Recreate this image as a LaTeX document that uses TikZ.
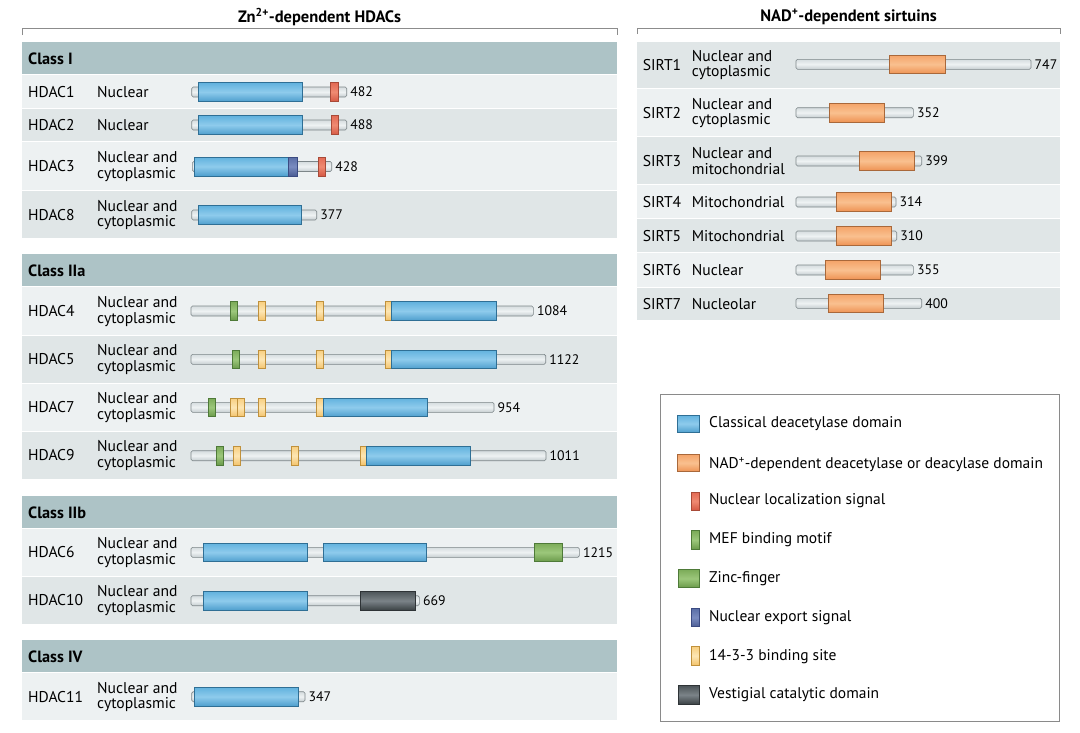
\documentclass[tikz,border=0pt]{standalone}
\usepackage{fontspec}
\setmainfont{PT Sans}
\definecolor{bandcol}{HTML}{ADC3C6}
\definecolor{rowlight}{HTML}{EDF1F2}
\definecolor{rowdark}{HTML}{E0E6E7}
\definecolor{bracketcol}{HTML}{8C8C8C}
\definecolor{bbdraw}{HTML}{7D8689}
\definecolor{bbtop}{HTML}{D6DDDF}
\definecolor{bbmid}{HTML}{EEF2F3}
\definecolor{bbbot}{HTML}{C5CDD0}
\definecolor{bldraw}{HTML}{2F6F95}
\definecolor{bltop}{HTML}{62B2DE}
\definecolor{blmid}{HTML}{8ECBEC}
\definecolor{blbot}{HTML}{4F9FCE}
\definecolor{ordraw}{HTML}{A9683A}
\definecolor{ortop}{HTML}{F4A46A}
\definecolor{ormid}{HTML}{F9C08F}
\definecolor{orbot}{HTML}{EE9354}
\definecolor{rddraw}{HTML}{A84A38}
\definecolor{rdtop}{HTML}{E36B55}
\definecolor{rdmid}{HTML}{EF8A72}
\definecolor{rdbot}{HTML}{D65A45}
\definecolor{grdraw}{HTML}{4E7A38}
\definecolor{grtop}{HTML}{7BAB58}
\definecolor{grmid}{HTML}{9CC77B}
\definecolor{grbot}{HTML}{6A9A4A}
\definecolor{yedraw}{HTML}{C0913C}
\definecolor{yetop}{HTML}{F8CF80}
\definecolor{yemid}{HTML}{FDE6B3}
\definecolor{yebot}{HTML}{F3C36C}
\definecolor{nedraw}{HTML}{3B4B82}
\definecolor{netop}{HTML}{5A6EA6}
\definecolor{nemid}{HTML}{7A8CC0}
\definecolor{nebot}{HTML}{4B5D94}
\definecolor{vedraw}{HTML}{2E3336}
\definecolor{vetop}{HTML}{4D5559}
\definecolor{vemid}{HTML}{7B8388}
\definecolor{vebot}{HTML}{3C4346}
\definecolor{legdraw}{HTML}{8A8A8A}
\newcommand\protbar[5]{% name, y, x1, x2, length
  \draw[backbone] (#3,#2-5) rectangle (#4,#2+5);
  \node[num] (#1) at (#4+3.5,#2) {#5};
}
\newcommand\dombox[4]{% style, y, x1, x2
  \draw[#1] (#3,#2-9.3) rectangle (#4,#2+9.3);
}
\begin{document}
\begin{tikzpicture}[x=1pt,y=-1pt,
  lbl/.style={anchor=west,inner sep=0pt,font=\fontsize{15.6}{15.5}\selectfont,align=left},
  num/.style={anchor=west,inner sep=0pt,font=\fontsize{13.8}{14}\selectfont},
  hdr/.style={anchor=west,inner sep=0pt,font=\bfseries\fontsize{16.3}{17}\selectfont},
  ttl/.style={inner sep=0pt,font=\bfseries\fontsize{16.5}{17}\selectfont},
  legtxt/.style={anchor=west,inner sep=0pt,font=\fontsize{15.5}{16}\selectfont},
  band/.style={fill=bandcol,draw=none},
  rowl/.style={fill=rowlight,draw=none},
  rowd/.style={fill=rowdark,draw=none},
  bracket/.style={draw=bracketcol,line width=0.8pt},
  backbone/.style={draw=bbdraw,line width=0.6pt,rounded corners=1.5pt,top color=bbtop,bottom color=bbbot,middle color=bbmid},
  bluedom/.style={draw=bldraw,line width=0.6pt,top color=bltop,bottom color=blbot,middle color=blmid},
  orangedom/.style={draw=ordraw,line width=0.6pt,top color=ortop,bottom color=orbot,middle color=ormid},
  nls/.style={draw=rddraw,line width=0.6pt,top color=rdtop,bottom color=rdbot,middle color=rdmid},
  mef/.style={draw=grdraw,line width=0.6pt,top color=grtop,bottom color=grbot,middle color=grmid},
  zinc/.style={draw=grdraw,line width=0.6pt,top color=grtop,bottom color=grbot,middle color=grmid},
  nes/.style={draw=nedraw,line width=0.6pt,top color=netop,bottom color=nebot,middle color=nemid},
  bind/.style={draw=yedraw,line width=0.6pt,top color=yetop,bottom color=yebot,middle color=yemid},
  vest/.style={draw=vedraw,line width=0.6pt,top color=vetop,bottom color=vebot,middle color=vemid},
]
\useasboundingbox[fill=white] (0,0) rectangle (1080,732);

% ---------- titles and brackets ----------
\node[ttl] (tzn) at (319.5,17) {Zn\textsuperscript{2+}-dependent HDACs};
\node[ttl] (tnad) at (848.5,17) {NAD\textsuperscript{+}-dependent sirtuins};
\draw[bracket] (22,35) -- (22,28) -- (617,28) -- (617,35);
\draw[bracket] (637,34) -- (637,28) -- (1060,28) -- (1060,34);

% ---------- left panel backgrounds ----------
\fill[band] (22,42) rectangle (617,74);
\fill[rowl] (22,75) rectangle (617,108);
\fill[rowd] (22,109) rectangle (617,141);
\fill[rowl] (22,142) rectangle (617,190);
\fill[rowd] (22,191) rectangle (617,238);
\fill[band] (22,254) rectangle (617,286);
\fill[rowl] (22,287) rectangle (617,334.5);
\fill[rowd] (22,335.5) rectangle (617,382.5);
\fill[rowl] (22,383.5) rectangle (617,430.5);
\fill[rowd] (22,431.5) rectangle (617,478.5);
\fill[band] (22,495.5) rectangle (617,528);
\fill[rowl] (22,529) rectangle (617,575.5);
\fill[rowd] (22,576.5) rectangle (617,623.5);
\fill[band] (22,640) rectangle (617,671.5);
\fill[rowl] (22,672.5) rectangle (617,720);

% ---------- right panel backgrounds ----------
\fill[rowd] (637,41.5) rectangle (1060,87.5);
\fill[rowl] (637,88.5) rectangle (1060,136);
\fill[rowd] (637,137) rectangle (1060,184);
\fill[rowl] (637,185) rectangle (1060,218.3);
\fill[rowd] (637,219.3) rectangle (1060,252.3);
\fill[rowl] (637,253.3) rectangle (1060,286.7);
\fill[rowd] (637,287.7) rectangle (1060,320);

% ---------- class headers ----------
\node[hdr] (c1) at (28,58.5) {Class I};
\node[hdr] (c2a) at (28,270.5) {Class IIa};
\node[hdr] (c2b) at (28,512.5) {Class IIb};
\node[hdr] (c4) at (28,656.5) {Class IV};

% ---------- HDAC labels ----------
\node[lbl] (h1) at (28,92) {HDAC1};
\node[lbl] (h1loc) at (97,92) {Nuclear};
\node[lbl] (h2) at (28,125.5) {HDAC2};
\node[lbl] (h2loc) at (97,125.5) {Nuclear};
\node[lbl] (h3) at (28,166.5) {HDAC3};
\node[lbl] (h3loc) at (97,166.5) {Nuclear and\\cytoplasmic};
\node[lbl] (h8) at (28,215) {HDAC8};
\node[lbl] (h8loc) at (97,215) {Nuclear and\\cytoplasmic};
\node[lbl] (h4) at (28,311.5) {HDAC4};
\node[lbl] (h4loc) at (97,311.5) {Nuclear and\\cytoplasmic};
\node[lbl] (h5) at (28,359.5) {HDAC5};
\node[lbl] (h5loc) at (97,359.5) {Nuclear and\\cytoplasmic};
\node[lbl] (h7) at (28,407.5) {HDAC7};
\node[lbl] (h7loc) at (97,407.5) {Nuclear and\\cytoplasmic};
\node[lbl] (h9) at (28,455.5) {HDAC9};
\node[lbl] (h9loc) at (97,455.5) {Nuclear and\\cytoplasmic};
\node[lbl] (h6) at (28,552.5) {HDAC6};
\node[lbl] (h6loc) at (97,552.5) {Nuclear and\\cytoplasmic};
\node[lbl] (h10) at (28,600.5) {HDAC10};
\node[lbl] (h10loc) at (97,600.5) {Nuclear and\\cytoplasmic};
\node[lbl] (h11) at (28,697) {HDAC11};
\node[lbl] (h11loc) at (97,697) {Nuclear and\\cytoplasmic};

% ---------- SIRT labels ----------
\node[lbl] (s1) at (642.7,65) {SIRT1};
\node[lbl] (s1loc) at (691.7,65) {Nuclear and\\cytoplasmic};
\node[lbl] (s2) at (642.7,113) {SIRT2};
\node[lbl] (s2loc) at (691.7,113) {Nuclear and\\cytoplasmic};
\node[lbl] (s3) at (642.7,161) {SIRT3};
\node[lbl] (s3loc) at (691.7,161) {Nuclear and\\mitochondrial};
\node[lbl] (s4) at (642.7,202) {SIRT4};
\node[lbl] (s4loc) at (691.7,202) {Mitochondrial};
\node[lbl] (s5) at (642.7,236) {SIRT5};
\node[lbl] (s5loc) at (691.7,236) {Mitochondrial};
\node[lbl] (s6) at (642.7,270.2) {SIRT6};
\node[lbl] (s6loc) at (691.7,270.2) {Nuclear};
\node[lbl] (s7) at (642.7,304) {SIRT7};
\node[lbl] (s7loc) at (691.7,304) {Nucleolar};

% ---------- HDAC bars ----------
% HDAC1
\protbar{n482}{92}{191.7}{346.7}{482}
\dombox{bluedom}{92}{198.3}{302.7}
\dombox{nls}{92}{330}{338}
% HDAC2
\protbar{n488}{125}{191.7}{346.7}{488}
\dombox{bluedom}{125}{198.3}{302.7}
\dombox{nls}{125}{331}{338.7}
% HDAC3
\protbar{n428}{166.5}{192.3}{331.7}{428}
\dombox{bluedom}{166.5}{194}{290}
\dombox{nes}{166.5}{288.3}{297.3}
\dombox{nls}{166.5}{318.3}{325.7}
% HDAC8
\protbar{n377}{215}{191.7}{316.7}{377}
\dombox{bluedom}{215}{198.3}{301.7}
% HDAC4
\protbar{n1084}{311}{191}{533.3}{1084}
\dombox{mef}{311}{230.7}{237.3}
\dombox{bind}{311}{258.3}{265}
\dombox{bind}{311}{316.7}{323.3}
\dombox{bind}{311}{385}{391.7}
\dombox{bluedom}{311}{391.7}{496}
% HDAC5
\protbar{n1122}{359.3}{191}{545.7}{1122}
\dombox{mef}{359.3}{232.3}{239}
\dombox{bind}{359.3}{258.3}{265}
\dombox{bind}{359.3}{316.7}{323.3}
\dombox{bind}{359.3}{385}{391.7}
\dombox{bluedom}{359.3}{391.7}{496}
% HDAC7
\protbar{n954}{407.3}{191}{494}{954}
\dombox{mef}{407.3}{208.3}{215}
\dombox{bind}{407.3}{230.7}{237.3}
\dombox{bind}{407.3}{237.3}{244}
\dombox{bind}{407.3}{258.3}{265}
\dombox{bind}{407.3}{316.7}{323.3}
\dombox{bluedom}{407.3}{323.3}{427.7}
% HDAC9
\protbar{n1011}{455.7}{191}{546}{1011}
\dombox{mef}{455.7}{216.7}{223.3}
\dombox{bind}{455.7}{233.3}{240}
\dombox{bind}{455.7}{291.7}{298.3}
\dombox{bind}{455.7}{360}{366.7}
\dombox{bluedom}{455.7}{366.7}{470.7}
% HDAC6
\protbar{n1215}{552.3}{191}{579.3}{1215}
\dombox{bluedom}{552.3}{203.3}{307.3}
\dombox{bluedom}{552.3}{323.3}{426.7}
\dombox{zinc}{552.3}{534.3}{562.7}
% HDAC10
\protbar{n669}{600.7}{191}{419.3}{669}
\dombox{bluedom}{600.7}{203.3}{307.3}
\dombox{vest}{600.7}{360}{415}
% HDAC11
\protbar{n347}{696.7}{191.7}{305}{347}
\dombox{bluedom}{696.7}{194}{298.3}

% ---------- SIRT bars ----------
\protbar{n747}{64.3}{796}{1031}{747}
\dombox{orangedom}{64.3}{889.3}{945}
\protbar{n352}{112.7}{796}{913.3}{352}
\dombox{orangedom}{112.7}{829}{884.3}
\protbar{n399}{161}{796}{921.7}{399}
\dombox{orangedom}{161}{859.3}{914.7}
\protbar{n314}{202}{796}{896}{314}
\dombox{orangedom}{202}{836}{891.3}
\protbar{n310}{236}{796}{896.7}{310}
\dombox{orangedom}{236}{836}{891.3}
\protbar{n355}{270}{796}{913.3}{355}
\dombox{orangedom}{270}{825}{880.3}
\protbar{n400}{303.3}{796}{921.7}{400}
\dombox{orangedom}{303.3}{828.3}{883.7}

% ---------- legend ----------
\draw[draw=legdraw,line width=0.8pt,fill=white] (660,394.5) rectangle (1059.5,721);
\draw[bluedom] (677.3,415) rectangle (699,432.5);
\node[legtxt] (l1) at (709,424) {Classical deacetylase domain};
\draw[orangedom] (677.3,454.3) rectangle (699,471.7);
\node[legtxt] (l2) at (709,464.5) {NAD\textsuperscript{+}-dependent deacetylase or deacylase domain};
\draw[nls] (691,492.3) rectangle (699,510);
\node[legtxt] (l3) at (709,501) {Nuclear localization signal};
\draw[mef] (691,530.7) rectangle (699,549.3);
\node[legtxt] (l4) at (709,539.7) {MEF binding motif};
\draw[zinc] (678.3,569.3) rectangle (699,587.7);
\node[legtxt] (l5) at (709,578.5) {Zinc-finger};
\draw[nes] (691,608.3) rectangle (699,626.7);
\node[legtxt] (l6) at (709,617.5) {Nuclear export signal};
\draw[bind] (691,646.7) rectangle (699,665);
\node[legtxt] (l7) at (709,656.5) {14-3-3 binding site};
\draw[vest] (678.3,685.7) rectangle (699,704);
\node[legtxt] (l8) at (709,695) {Vestigial catalytic domain};
\end{tikzpicture}
\end{document}
